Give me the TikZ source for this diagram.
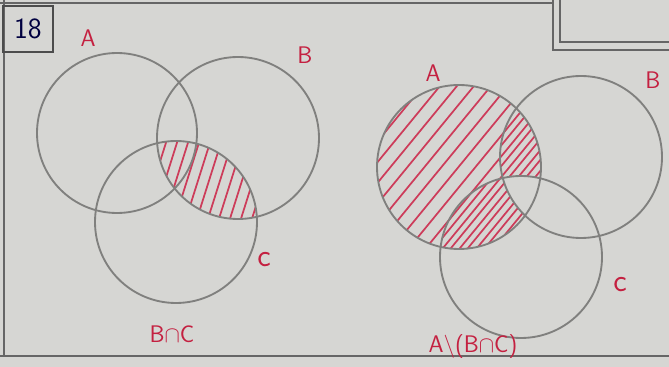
\documentclass[tikz,border=0pt]{standalone}
\usepackage{amsmath, amssymb}
\usetikzlibrary{positioning}
\usetikzlibrary{calc}

\definecolor{paper}{RGB}{214,214,211}
\definecolor{pencil}{RGB}{128,128,126}
\definecolor{ink}{RGB}{196,32,64}
\definecolor{hatchred}{RGB}{205,60,90}

\tikzset{
  setcircle/.style={draw=pencil, line width=1.4pt},
  setlabel/.style={text=ink, font=\sffamily\fontsize{18}{21}\selectfont, inner sep=0pt},
  biglabel/.style={setlabel, font=\sffamily\fontsize{24}{26}\selectfont},
  hatchline/.style={draw=hatchred, line width=1.3pt, line cap=round},
  ruleline/.style={draw=black!60, line width=1pt}
}

\begin{document}
\begin{tikzpicture}[x=0.75pt, y=-0.75pt]

      \useasboundingbox (0,0) rectangle (669,367);
      \fill[paper] (0,0) rectangle (669,367);

      \def\r{81} % radius of every set

      % page rules
      \coordinate (tl) at (0,3);
      \coordinate (tr) at (553,3);
      \coordinate (lt) at (4,0);
      \coordinate (lb) at (4,356);
      \coordinate (bl) at (0,356);
      \coordinate (br) at (669,356);
      \draw[ruleline] (tl) -- (tr);
      \draw[ruleline] (lt) -- (lb);
      \draw[ruleline] (bl) -- (br);

      % box in the corner
      \coordinate (o1) at (553,0);
      \coordinate (o2) at (553,50);
      \coordinate (o3) at (669,50);
      \coordinate (i1) at (560,0);
      \coordinate (i2) at (560,42);
      \coordinate (i3) at (669,42);
      \draw[ruleline] (o1) -- (o2) -- (o3);
      \draw[ruleline] (i1) -- (i2) -- (i3);

      % question number
      \node[draw=black!70, line width=1pt, minimum width=50*0.75pt, minimum height=46*0.75pt,
            inner sep=0pt, text=black!75!blue, font=\sffamily\fontsize{22}{24}\selectfont] (qnum) at (28,29) {18};

      % left: B and C
      \coordinate (lA) at (117,133);
      \coordinate (lB) at (238,138);
      \coordinate (lC) at (176,222);

      \begin{scope}
        \clip (lB) circle (\r);
        \clip (lC) circle (\r);
        \foreach \i in {0,...,12} {
          \draw[hatchline] (140+\i*11,225) -- ++(30,-95);
        }
      \end{scope}

      \draw[setcircle] (lA) circle (80);
      \draw[setcircle] (lB) circle (\r);
      \draw[setcircle] (lC) circle (\r);

      \node[setlabel] (lAlab) at (88,38) {A};
      \node[setlabel] (lBlab) at (305,55) {B};
      \node[biglabel] (lClab) at (264,260) {c};
      \node[setlabel] (lcap) at (172,334) {B$\cap$C};

      % right: A minus (B and C)
      \coordinate (rA) at (459,167);
      \coordinate (rB) at (581,157);
      \coordinate (rC) at (521,257);

      \begin{scope}
        \clip (rA) circle (82);
        \foreach \i in {-12,...,14} {
          \draw[hatchline] (340+\i*17,270) -- ++(160,-195);
        }
        \begin{scope}
          \clip (rB) circle (\r) (rC) circle (\r);
          \foreach \i in {-12,...,14} {
            \draw[hatchline] (348+\i*17,270) -- ++(160,-195);
          }
        \end{scope}
        \clip (rB) circle (\r);
        \fill[paper] (rC) circle (\r);
      \end{scope}

      \draw[setcircle] (rA) circle (82);
      \draw[setcircle] (rB) circle (\r);
      \draw[setcircle] (rC) circle (\r);

      \node[setlabel] (rAlab) at (433,73) {A};
      \node[setlabel] (rBlab) at (653,80) {B};
      \node[biglabel] (rClab) at (620,285) {c};
      \node[setlabel] (rdiff) at (473,347) {A$\setminus$(B$\cap$C)};

\end{tikzpicture}
\end{document}
